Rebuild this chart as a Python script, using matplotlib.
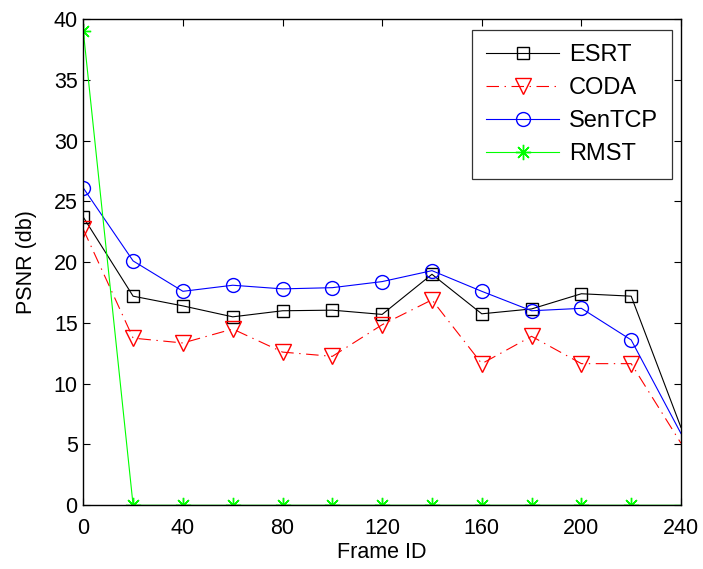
import matplotlib
matplotlib.use("Agg")
import matplotlib.pyplot as plt

plt.rcParams['font.family'] = ['Liberation Sans', 'DejaVu Sans']
plt.rcParams['lines.scale_dashes'] = False

frames = [0, 20, 40, 60, 80, 100, 120, 140, 160, 180, 200, 220, 240]
esrt = [23.7, 17.2, 16.4, 15.5, 16.0, 16.05, 15.7, 19.0, 15.75, 16.15, 17.4, 17.2, 6.4]
coda = [22.7, 13.75, 13.35, 14.5, 12.6, 12.25, 14.85, 16.9, 11.65, 13.9, 11.65, 11.65, 5.1]
sentcp = [26.1, 20.1, 17.6, 18.1, 17.8, 17.9, 18.4, 19.3, 17.6, 16.0, 16.2, 13.6, 5.9]
rmst = [39.0, 0, 0, 0, 0, 0, 0, 0, 0, 0, 0, 0, 0]

xticks = [0, 40, 80, 120, 160, 200, 240]
yticks = [0, 5, 10, 15, 20, 25, 30, 35, 40]

fig = plt.figure(figsize=(7.03, 5.69), dpi=100)
ax = fig.add_axes([0.1185, 0.112, 0.8502, 0.8546])

mk = slice(0, 12)
ax.plot(frames, esrt, color='black', lw=0.8, marker='s', markersize=8,
        markerfacecolor='none', markeredgecolor='black', markevery=mk, label='ESRT')
ax.plot(frames, coda, color='red', lw=0.8, linestyle=(0, (9, 4, 1, 4)), marker='v', markersize=11,
        markerfacecolor='none', markeredgecolor='red', markevery=mk, label='CODA')
ax.plot(frames, sentcp, color='blue', lw=0.8, marker='o', markersize=10,
        markerfacecolor='none', markeredgecolor='blue', markevery=mk, label='SenTCP')
ax.plot(frames, rmst, color='#00ff00', lw=0.8, marker=(8, 2, 0), markersize=11,
        markeredgecolor='#00ff00', markeredgewidth=1.0, markevery=mk, label='RMST')

ax.set_xlim(0, 240)
ax.set_ylim(0, 40)
ax.set_xticks(xticks)
ax.set_yticks(yticks)
ax.tick_params(direction='in', top=True, right=True, length=5, width=0.8,
               labelsize=15.5)
ax.tick_params(axis='x', pad=9)
ax.tick_params(axis='y', pad=4)
for s in ax.spines.values():
    s.set_linewidth(1.0)

ax.set_xlabel('Frame ID', fontsize=15.5, labelpad=2)
ax.set_ylabel('PSNR (db)', fontsize=15.5, labelpad=12)

leg = ax.legend(loc='upper right', bbox_to_anchor=(0.985, 0.977), borderaxespad=0,
                fontsize=17, frameon=True, fancybox=False, edgecolor='black',
                handlelength=3.1, handletextpad=0.4, labelspacing=0.46,
                borderpad=0.6)
leg.get_frame().set_linewidth(0.9)

fig.savefig('out.png', dpi=100)
